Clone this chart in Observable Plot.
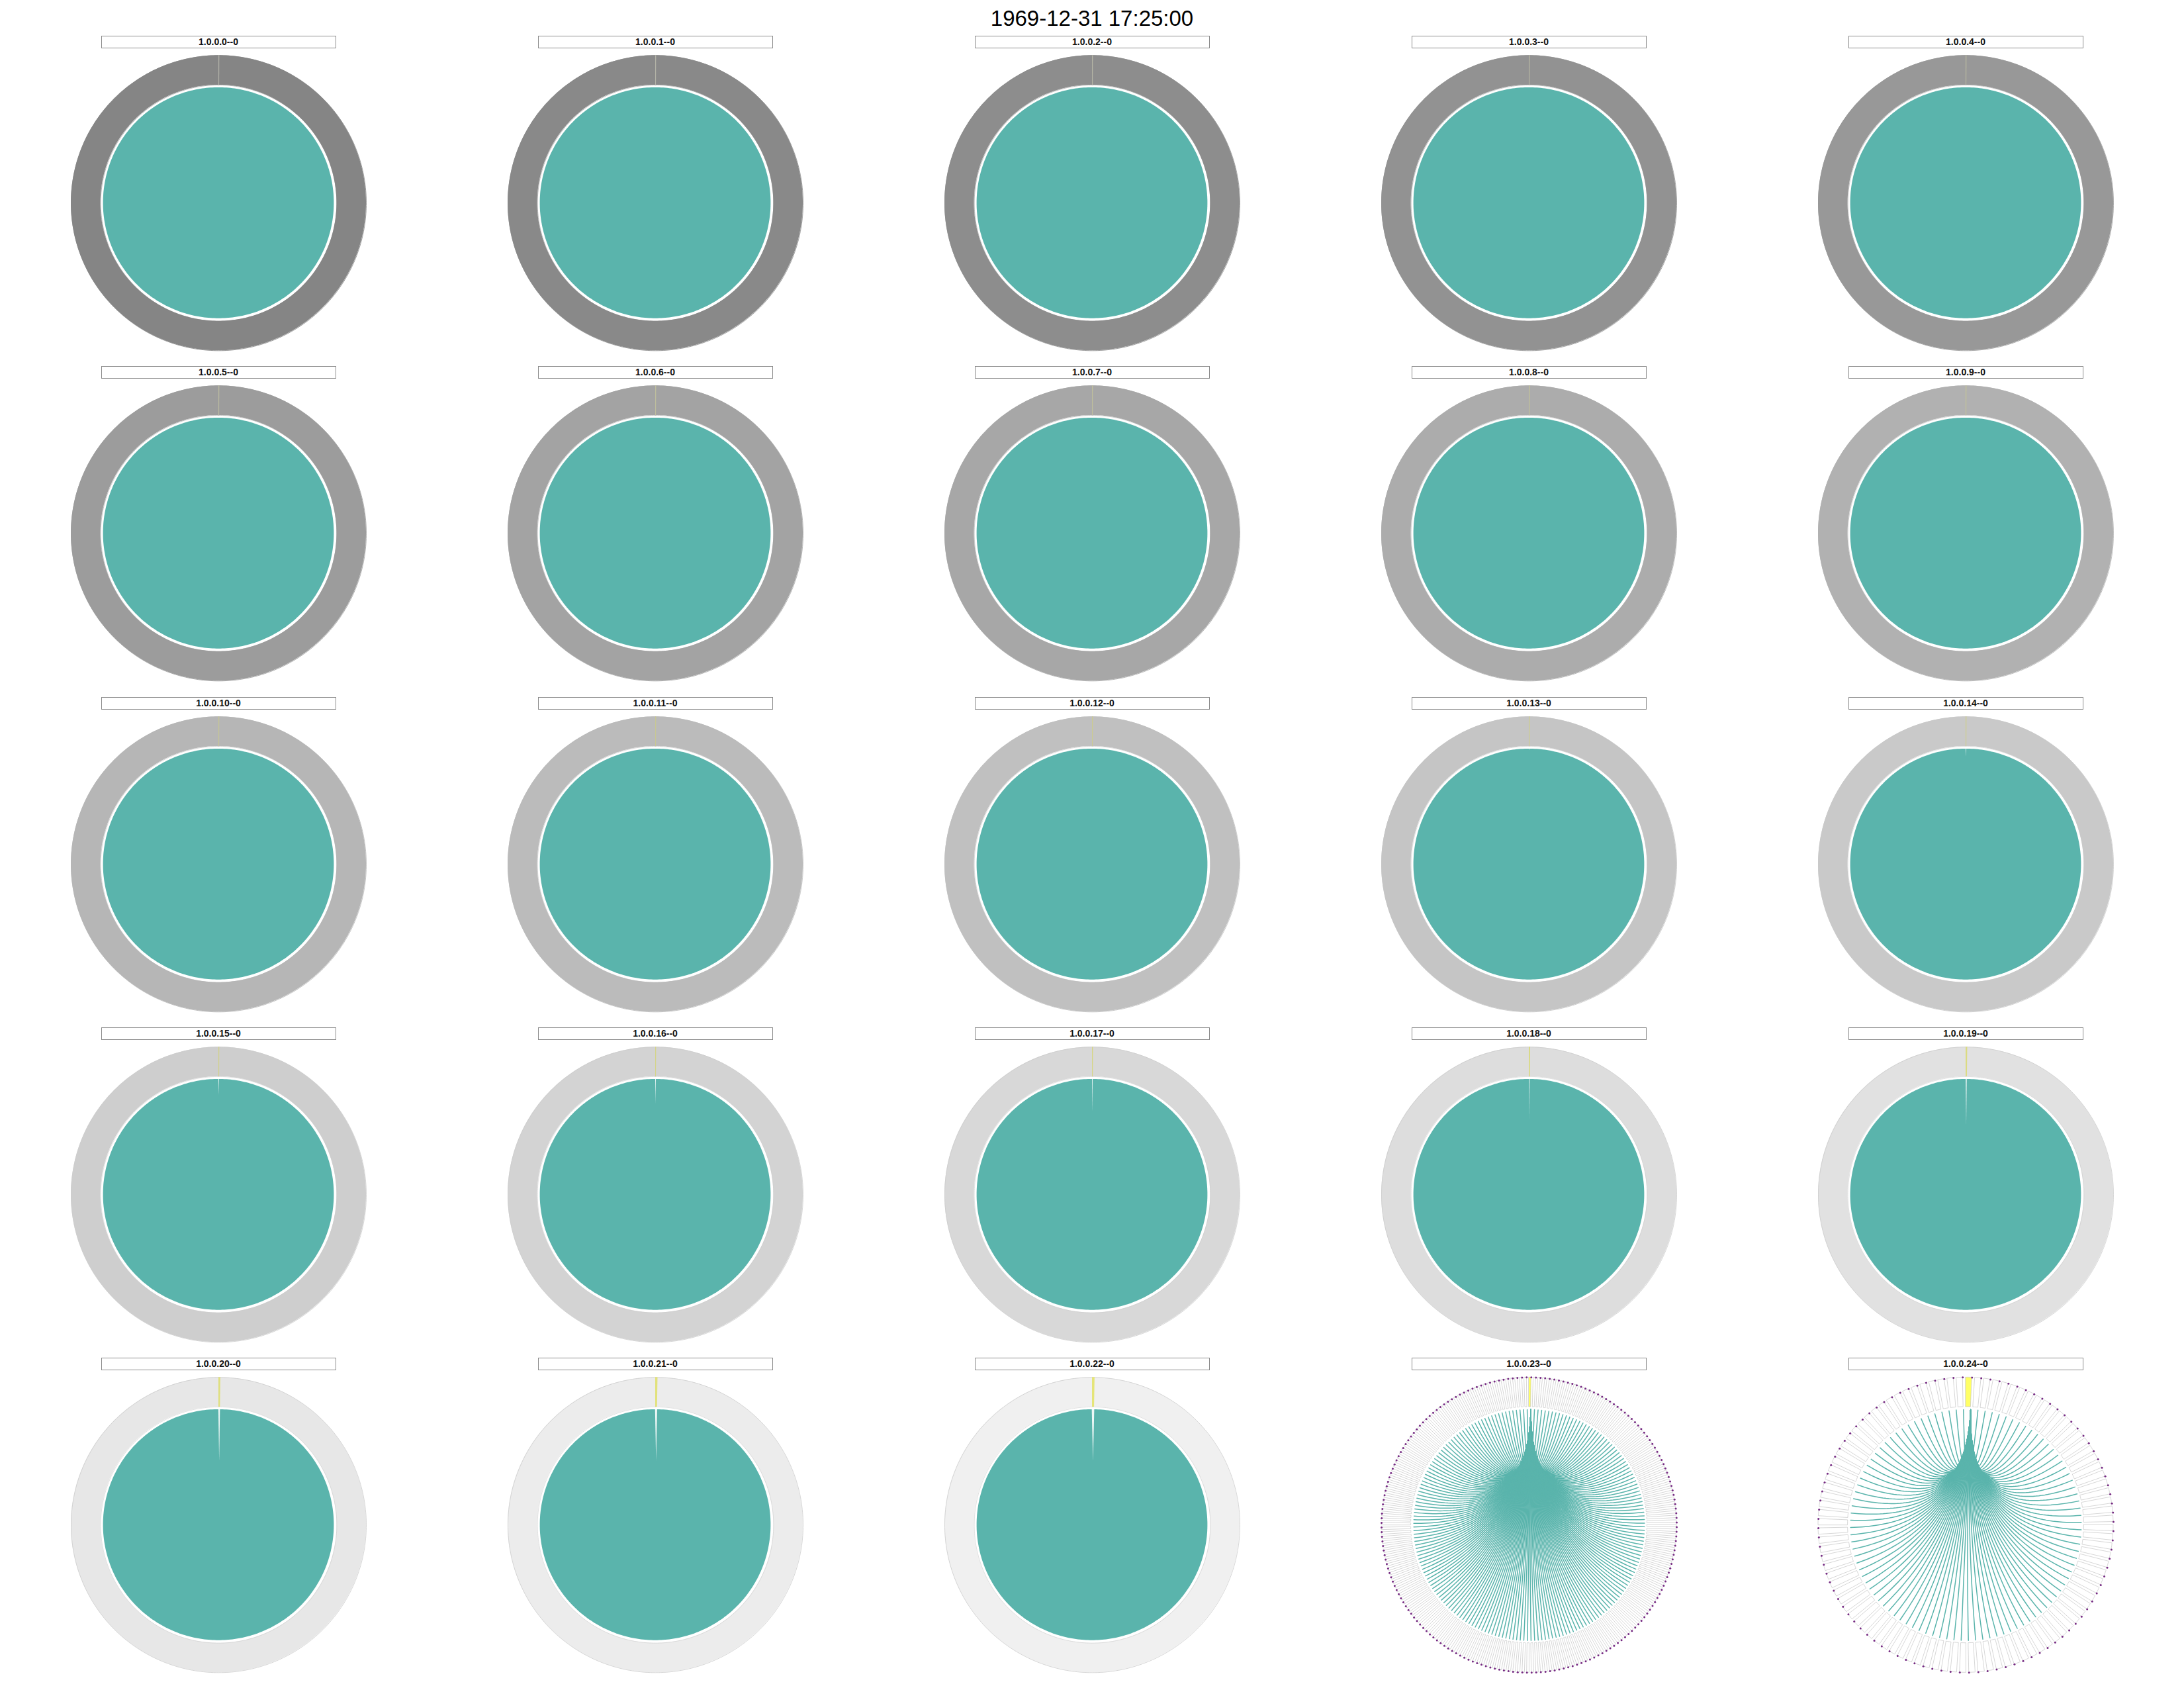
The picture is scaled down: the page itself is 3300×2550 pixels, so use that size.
<!DOCTYPE html>
<html>
<head>
<meta charset="utf-8">
<script src="https://cdn.jsdelivr.net/npm/d3@7"></script>
<script src="https://cdn.jsdelivr.net/npm/@observablehq/plot@0.6"></script>
<style>
  body { margin: 0; background: #fff; font-family: "Liberation Sans", Arial, Helvetica, sans-serif; }
  #page { width: 3300px; height: 2550px; position: relative; background: #fff; overflow: hidden; }
  #title { height: 50px; box-sizing: border-box; padding-top: 11px; text-align: center;
           font-size: 33px; line-height: 33px; color: #000; }
  #grid { display: grid; grid-template-columns: repeat(5, 660px); grid-template-rows: repeat(5, 499.3px); }
  .cell { position: relative; }
  .lbl { position: absolute; top: 4px; left: 152.5px; width: 355px; height: 19px; box-sizing: border-box;
         border: 1px solid #8a8a8a; text-align: center; font-weight: bold; font-size: 14px; line-height: 17px; color: #111; }
  .cell svg { position: absolute; top: 24px; left: 0; }
</style>
</head>
<body>
<div id="page">
  <div id="title"></div>
  <div id="grid"></div>
</div>
<script>
// ---------------- data ----------------
const titleText = "1969-12-31 17:25:00";

const panelLabels = [
  "1.0.0.0--0", "1.0.0.1--0", "1.0.0.2--0", "1.0.0.3--0", "1.0.0.4--0",
  "1.0.0.5--0", "1.0.0.6--0", "1.0.0.7--0", "1.0.0.8--0", "1.0.0.9--0",
  "1.0.0.10--0", "1.0.0.11--0", "1.0.0.12--0", "1.0.0.13--0", "1.0.0.14--0",
  "1.0.0.15--0", "1.0.0.16--0", "1.0.0.17--0", "1.0.0.18--0", "1.0.0.19--0",
  "1.0.0.20--0", "1.0.0.21--0", "1.0.0.22--0", "1.0.0.23--0", "1.0.0.24--0"
];

// apparent density of the outer ring (0 = white, 1 = full grey); null = segments drawn individually
const ringDensity = [
  0.90, 0.87, 0.84, 0.80, 0.76,
  0.73, 0.68, 0.65, 0.61, 0.57,
  0.54, 0.50, 0.46, 0.43, 0.40,
  0.36, 0.32, 0.29, 0.25, 0.22,
  0.18, 0.14, 0.11, null, null
];

// depth of the uncovered notch below node 0 (fraction of the outer radius)
const spikeDepth = [
  0, 0, 0, 0, 0,
  0, 0, 0, 0, 0,
  0, 0, 0, 0.01, 0.054,
  0.108, 0.166, 0.224, 0.269, 0.314,
  0.35, 0.35, 0.35, null, null
];

// panels whose nodes are individually visible
const nodeCount   = [null, null, null, null, null, null, null, null, null, null, null, null, null, null, null, null, null, null, null, null, null, null, null, 200, 100];
const segmentFill = [null, null, null, null, null, null, null, null, null, null, null, null, null, null, null, null, null, null, null, null, null, null, null, 0.47, 0.66];

// ---------------- layout / style ----------------
const W = 660, H = 475, U = 223, CY = 232.3;   // px per unit radius, centre offset
const R_OUT = 1, R_IN = 0.8, R_TEAL = 0.782;
const TEAL = "#5ab4ac", PURPLE = "#762a83", YELLOW = "#ffff66", SEG_STROKE = "#c6c6c6";
const greyOf = d3.scaleLinear().domain([0, 1]).range(["#ffffff", "#777777"]).interpolate(d3.interpolateRgb);

document.getElementById("title").textContent = titleText;
const grid = document.getElementById("grid");

const deg = Math.PI / 180;
const pol = (r, a) => [r * Math.sin(a), r * Math.cos(a)];

function densePanel(k) {
  const dens = ringDensity[k];
  const ring = d3.range(0, 361).map(a => {
    const [xo, yo] = pol(R_OUT, a * deg), [xi, yi] = pol(R_IN, a * deg);
    return {xo, yo, xi, yi, d: dens};
  });
  const disk = d3.range(0, 181).map(a => {
    const t = a * deg;
    return {x: R_TEAL * Math.cos(t), lo: -R_TEAL * Math.sin(t), hi: R_TEAL * Math.sin(t)};
  });
  // node-0 segment at the top of the ring
  const markPx = 1.2 + 12 * Math.max(0, 0.3 - dens);
  const w = markPx / (0.9 * U);
  const seg0 = [0, w].map(a => {
    const [xo, yo] = pol(R_OUT, a), [xi, yi] = pol(R_IN, a);
    return {xo, yo, xi, yi};
  });
  const markColor = d3.interpolateRgb("#f4f46a", "#adadad")(Math.pow(dens, 0.7));
  const edgeGrey = d3.rgb(greyOf(dens)).r > 0xcc ? "#cdcdcd" : greyOf(dens);

  const marks = [
    Plot.area(ring, {x1: "xo", y1: "yo", x2: "xi", y2: "yi", fill: "d"}),
    Plot.line(ring, {x: "xo", y: "yo", stroke: edgeGrey, strokeWidth: 0.8}),
    Plot.line(ring, {x: "xi", y: "yi", stroke: edgeGrey, strokeWidth: 0.6}),
    Plot.area(seg0, {x1: "xo", y1: "yo", x2: "xi", y2: "yi", fill: markColor}),
    Plot.area(disk, {x1: "x", y1: "lo", x2: "x", y2: "hi", fill: TEAL})
  ];
  const depth = spikeDepth[k];
  if (depth > 0) {
    const hw = (0.5 + 10 * Math.max(0, 0.25 - dens)) / U;
    const cx = Math.sin(w / 2) * R_TEAL;
    const spike = [
      {y: R_TEAL + 0.004, xl: cx - hw, xr: cx + hw},
      {y: R_TEAL - depth, xl: cx, xr: cx}
    ];
    marks.push(Plot.area(spike, {x1: "xl", y1: "y", x2: "xr", y2: "y", fill: "white", fillOpacity: 0.9}));
  }
  return {marks, color: {type: "linear", domain: [0, 1], range: ["#ffffff", "#777777"], interpolate: "rgb"}};
}

function sparsePanel(k) {
  const N = nodeCount[k], f = segmentFill[k], s = 2 * Math.PI / N;
  const segs = [];
  for (let i = 0; i < N; i++) {
    for (let j = 0; j <= 3; j++) {
      const a = (i + f * j / 3) * s;
      const [xo, yo] = pol(R_OUT, a), [xi, yi] = pol(R_IN, a);
      segs.push({i, xo, yo, xi, yi});
    }
  }
  const nodes = d3.range(N).map(i => {
    const a = (i + f) * s;
    const [x, y] = pol(R_OUT, a);
    const [tx, ty] = pol(R_TEAL, a);
    return {i, x, y, tx, ty};
  });
  const hub = nodes[0];
  const curves = [];
  for (const n of nodes) {
    if (n.i === 0) continue;
    for (let j = 0; j <= 60; j++) {
      const t = j / 60, u = 1 - t;
      // quadratic Bezier from node i through the centre to node 0
      curves.push({i: n.i, x: u * u * n.tx + t * t * hub.tx, y: u * u * n.ty + t * t * hub.ty});
    }
  }
  const marks = [
    Plot.area(segs.filter(d => d.i !== 0), {x1: "xo", y1: "yo", x2: "xi", y2: "yi", z: "i", fill: "white", stroke: SEG_STROKE, strokeWidth: 0.7}),
    Plot.area(segs.filter(d => d.i === 0), {x1: "xo", y1: "yo", x2: "xi", y2: "yi", z: "i", fill: YELLOW, stroke: SEG_STROKE, strokeWidth: 0.7}),
    Plot.line(curves, {x: "x", y: "y", z: "i", stroke: TEAL, strokeWidth: 1.5}),
    Plot.dot(nodes, {x: "x", y: "y", r: 1.5, fill: PURPLE, stroke: "none"})
  ];
  return {marks};
}

panelLabels.forEach((label, k) => {
  const cell = document.createElement("div");
  cell.className = "cell";
  const lbl = document.createElement("div");
  lbl.className = "lbl";
  lbl.textContent = label;
  cell.appendChild(lbl);
  const spec = nodeCount[k] ? sparsePanel(k) : densePanel(k);
  const opts = {
    width: W, height: H, margin: 0,
    x: {domain: [-W / 2 / U, W / 2 / U], axis: null},
    y: {domain: [-(H - CY) / U, CY / U], axis: null},
    style: {background: "transparent", overflow: "visible"},
    marks: spec.marks
  };
  if (spec.color) opts.color = spec.color;
  cell.appendChild(Plot.plot(opts));
  grid.appendChild(cell);
});
</script>
</body>
</html>
